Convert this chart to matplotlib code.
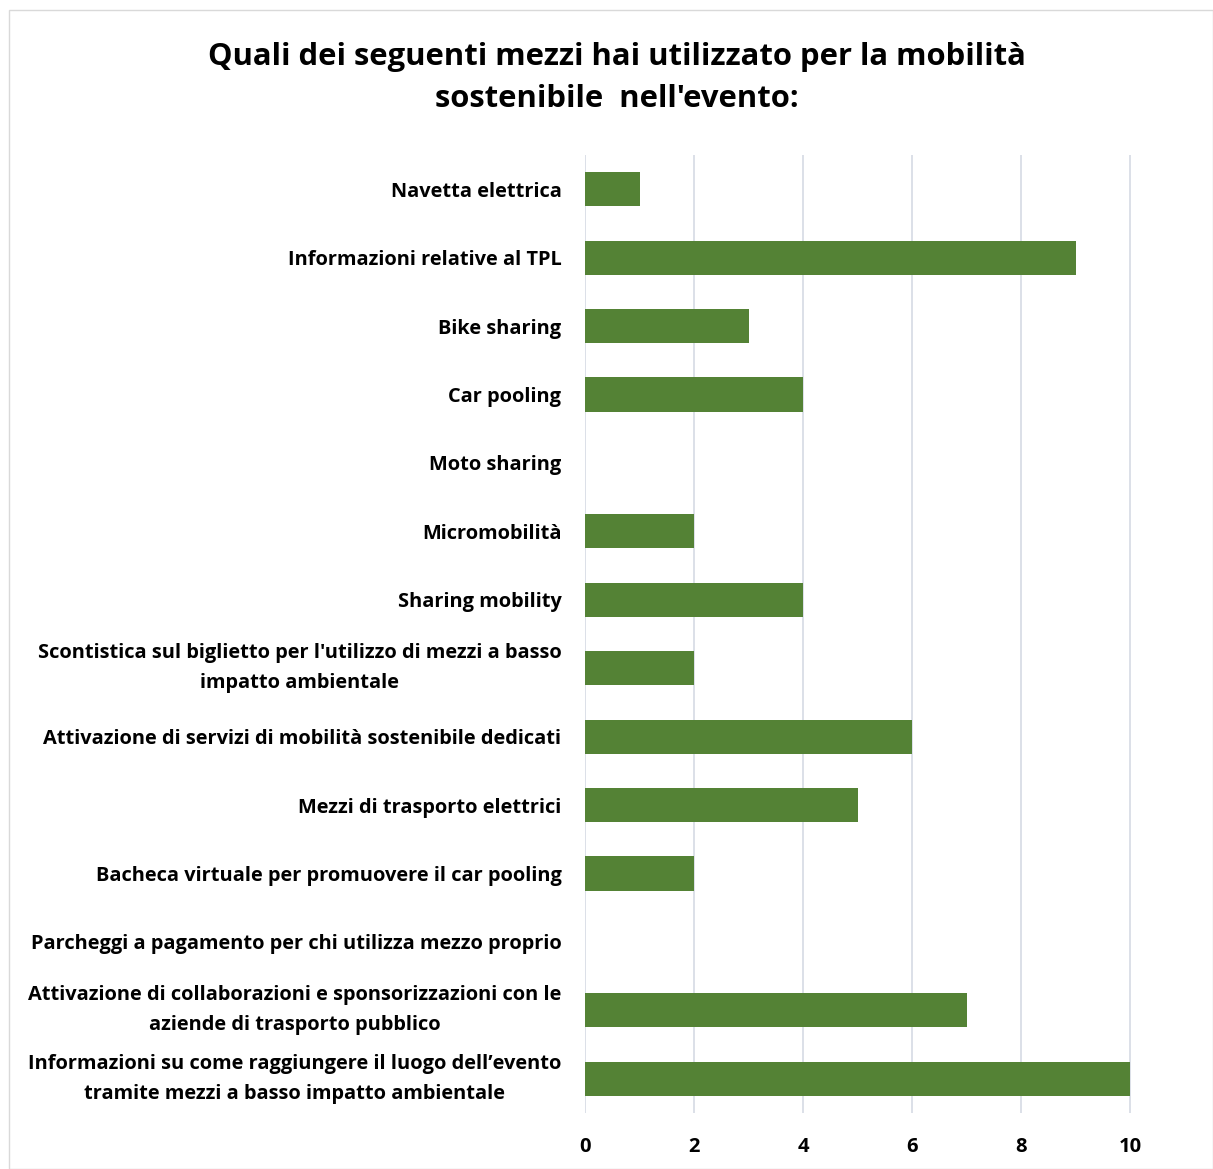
import matplotlib.pyplot as plt
from matplotlib.patches import Rectangle

plt.rcParams['font.family'] = ['Open Sans', 'DejaVu Sans']

categories = [
    "Navetta elettrica",
    "Informazioni relative al TPL",
    "Bike sharing",
    "Car pooling",
    "Moto sharing",
    "Micromobilità",
    "Sharing mobility",
    "Scontistica sul biglietto per l'utilizzo di mezzi a basso\nimpatto ambientale",
    "Attivazione di servizi di mobilità sostenibile dedicati",
    "Mezzi di trasporto elettrici",
    "Bacheca virtuale per promuovere il car pooling",
    "Parcheggi a pagamento per chi utilizza mezzo proprio",
    "Attivazione di collaborazioni e sponsorizzazioni con le\naziende di trasporto pubblico",
    "Informazioni su come raggiungere il luogo dell\u2019evento\ntramite mezzi a basso impatto ambientale",
]
values = [1, 9, 3, 4, 0, 2, 4, 2, 6, 5, 2, 0, 7, 10]
xticks = [0, 2, 4, 6, 8, 10]

title = "Quali dei seguenti mezzi hai utilizzato per la mobilità\nsostenibile  nell'evento:"

fig = plt.figure(figsize=(12.13, 11.69), dpi=100)
# light outer frame
fig.patches.append(Rectangle((9 / 1213, 0), 1 - 9 / 1213, 1 - 10 / 1169,
                             transform=fig.transFigure, fill=False,
                             edgecolor='#d9d9d9', linewidth=1))

ax = fig.add_axes([585 / 1213, 56 / 1169, 600 / 1213, 958 / 1169])
pos = list(range(len(categories)))
ax.barh(pos, values, height=0.5, color='#548235', zorder=3)
ax.set_ylim(len(categories) - 0.5, -0.5)
ax.set_xlim(0, 11)
ax.set_xticks(xticks)
ax.set_xticklabels([str(t) for t in xticks], fontsize=14.5, fontweight='bold')
ax.set_yticks(pos)
ax.set_yticklabels(categories, fontsize=14.4, fontweight='bold', ha='right',
                   multialignment='center', linespacing=1.65)
# two-line labels sit centred on the bar
for lbl in ax.get_yticklabels():
    if '\n' in lbl.get_text():
        lbl.set_va('center')
ax.tick_params(axis='y', length=0, pad=17)
ax.tick_params(axis='x', length=0, pad=17)
ax.grid(axis='x', color='#d9dde6', linewidth=1.3, zorder=0)
for s in ax.spines.values():
    s.set_visible(False)

fig.text(617 / 1213, 1 - 78 / 1169, title, ha='center', va='center',
         fontsize=22.3, fontweight='bold', linespacing=1.56)

fig.savefig('out.png', dpi=100)
